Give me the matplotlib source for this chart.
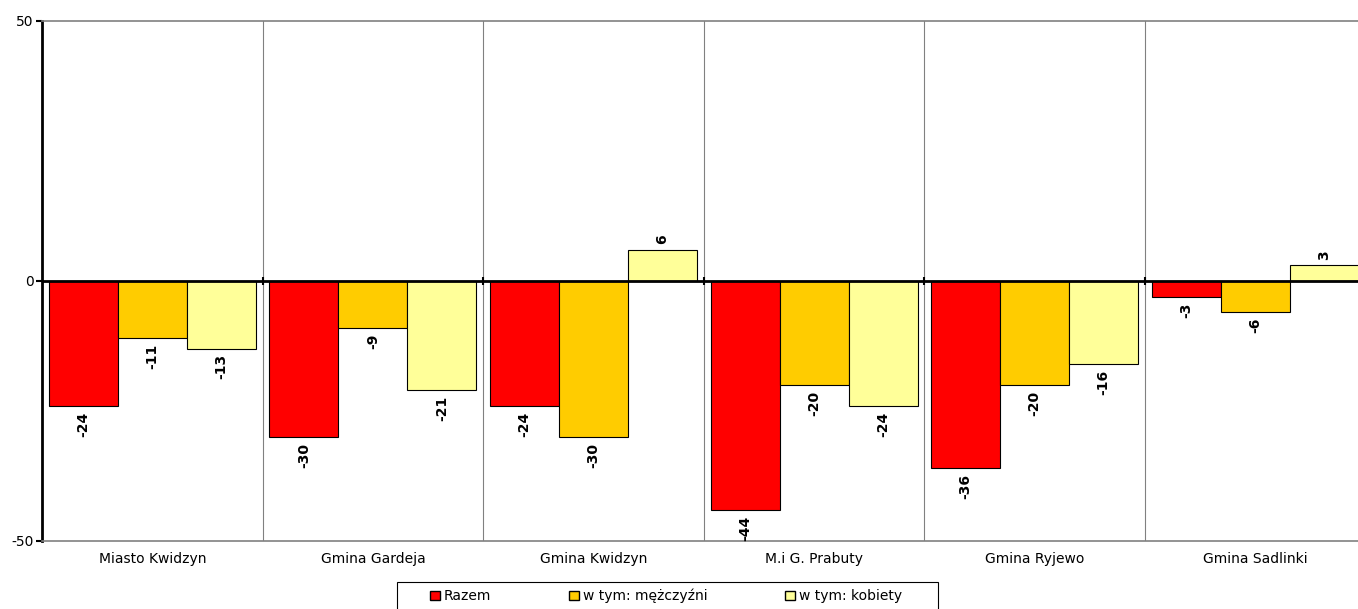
import numpy as np
import matplotlib.pyplot as plt
from matplotlib.patches import Patch, Rectangle

plt.rcParams['axes.unicode_minus'] = False

categories = ['Miasto Kwidzyn', 'Gmina Gardeja', 'Gmina Kwidzyn',
              'M.i G. Prabuty', 'Gmina Ryjewo', 'Gmina Sadlinki']
razem = [-24, -30, -24, -44, -36, -3]
mezczyzni = [-11, -9, -30, -20, -20, -6]
kobiety = [-13, -21, 6, -24, -16, 3]

series = [razem, mezczyzni, kobiety]
labels = ['Razem', 'w tym: mężczyźni', 'w tym: kobiety']
colors = ['#FF0000', '#FFCC00', '#FFFF99']

fig = plt.figure(figsize=(13.58, 6.09), dpi=100)
ax = fig.add_axes([42 / 1358, 1 - 541 / 609, 1323.6 / 1358, 520 / 609])

x = np.arange(len(categories))
w = 0.313
for i, vals in enumerate(series):
    pos = x + (i - 1) * w
    ax.bar(pos, vals, width=w, color=colors[i], edgecolor='black', linewidth=0.8, zorder=3)
    for p, v in zip(pos, vals):
        if v < 0:
            ax.annotate(str(v), (p, v), xytext=(0, -4), textcoords='offset points',
                        rotation=90, ha='center', va='top', fontsize=10, fontweight='bold')
        else:
            ax.annotate(str(v), (p, v), xytext=(0, 4), textcoords='offset points',
                        rotation=90, ha='center', va='bottom', fontsize=10, fontweight='bold')

# group separators
for b in np.arange(len(categories) + 1) - 0.5:
    ax.axvline(b, color='#808080', linewidth=0.8, zorder=1)
ax.plot(np.arange(1, len(categories)) - 0.5, [0] * (len(categories) - 1), '|',
        color='black', markersize=6, markeredgewidth=1.5, zorder=4)
ax.axhline(0, color='black', linewidth=2, zorder=4)

ax.set_xlim(-0.5, len(categories) - 0.5)
ax.set_ylim(-50, 50)
ax.set_yticks([-50, 0, 50])
ax.tick_params(axis='y', length=4, width=1.5, labelsize=10, pad=2)
ax.set_xticks(x)
ax.set_xticklabels(categories, fontsize=10)
ax.tick_params(axis='x', length=0, pad=8)

ax.spines['left'].set_color('black')
ax.spines['left'].set_linewidth(2)
for s in ['top', 'bottom', 'right']:
    ax.spines[s].set_color('#808080')
    ax.spines[s].set_linewidth(1.2)

handles = [Patch(facecolor=c, edgecolor='black', linewidth=1) for c in colors]
leg = fig.legend(handles, labels, loc='upper center', bbox_to_anchor=(666 / 1358, 1 - 582 / 609),
                 ncol=3, fontsize=10, frameon=False, handlelength=0.7,
                 handleheight=0.7, handletextpad=0.3, columnspacing=5.6, borderpad=0.5,
                 borderaxespad=0)
# legend box, wider than its entries, cut off at the bottom edge
fig.patches.append(Rectangle((397 / 1358, -0.02), 541 / 1358, 1 - 582 / 609 + 0.02,
                             transform=fig.transFigure, facecolor='none',
                             edgecolor='black', linewidth=0.8))

fig.savefig('out.png', dpi=100)
